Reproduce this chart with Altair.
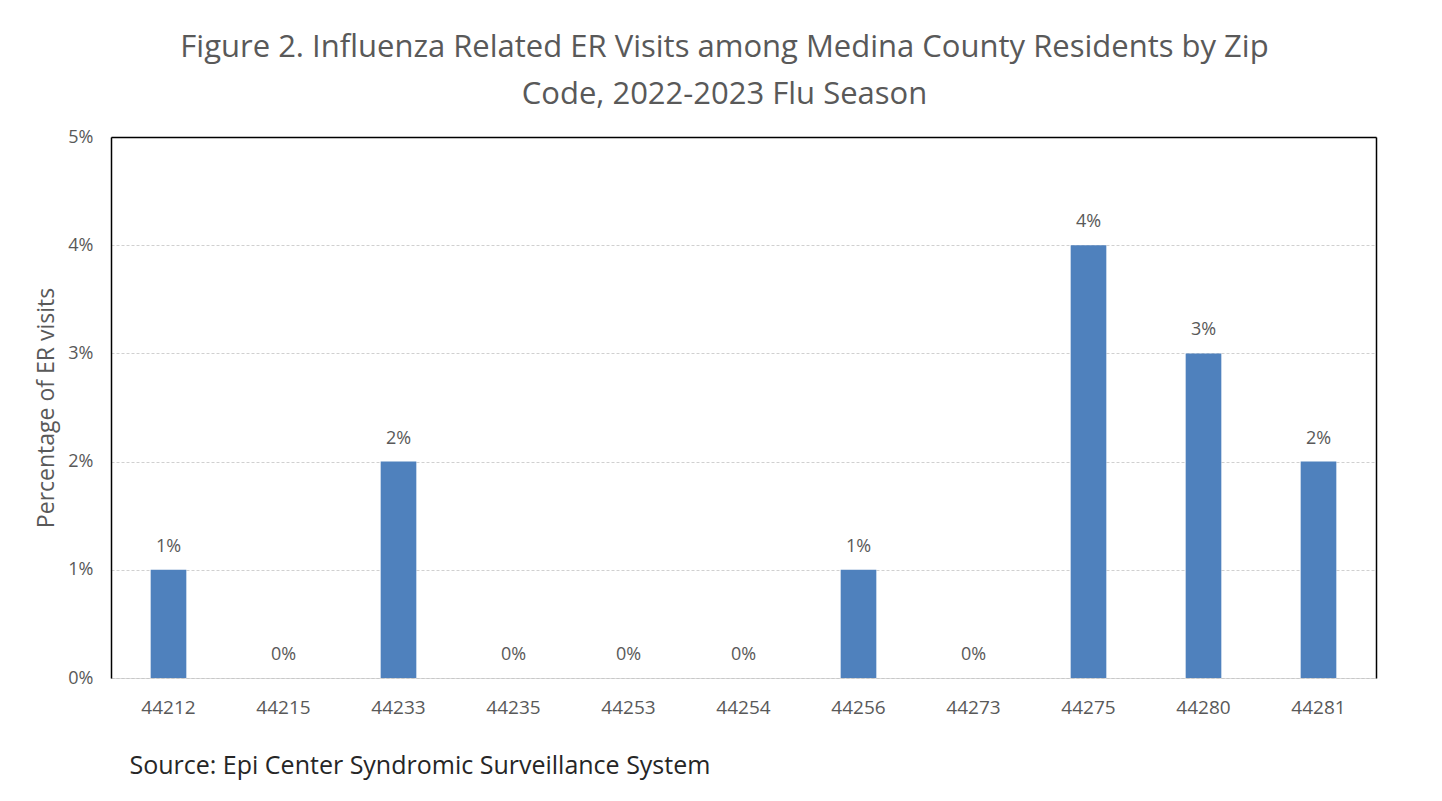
import altair as alt
import pandas as pd

zips = ["44212", "44215", "44233", "44235", "44253", "44254",
        "44256", "44273", "44275", "44280", "44281"]
pct = [1, 0, 2, 0, 0, 0, 1, 0, 4, 3, 2]
y_ticks = [0, 0.01, 0.02, 0.03, 0.04, 0.05]

title_lines = ["Figure 2. Influenza Related ER Visits among Medina County Residents by Zip",
               "Code, 2022-2023 Flu Season"]
source_text = "Source: Epi Center Syndromic Surveillance System"
y_title = "Percentage of ER visits"

df = pd.DataFrame({"zip": zips, "value": [p / 100 for p in pct]})

FONT = "Open Sans"
GRAY = "#595959"

xscale = alt.Scale(paddingInner=0.69, paddingOuter=0.345)
yscale = alt.Scale(domain=[0, 0.05])

base = alt.Chart(df)

bars = base.mark_bar(color="#4F81BD").encode(
    x=alt.X("zip:N", sort=zips, scale=xscale,
            axis=alt.Axis(title=source_text, labelAngle=0, ticks=False,
                          labelPadding=20, labelFontSize=19, labelColor=GRAY,
                          labelFont=FONT, domainColor="#c8c8c8", domainDash=[3, 2],
                          domainWidth=1,
                          titleAnchor="start", titleAlign="left", titleX=18,
                          titleY=95, titleBaseline="alphabetic",
                          titleFontSize=25, titleFontWeight="normal",
                          titleColor="#262626", titleFont=FONT)),
    y=alt.Y("value:Q", scale=yscale,
            axis=alt.Axis(title=y_title, values=y_ticks, format=".0%",
                          ticks=False, labelPadding=18, labelFontSize=18,
                          labelColor=GRAY, labelFont=FONT,
                          grid=True, gridColor="#d0d0d0", gridDash=[3, 2],
                          domainColor="#000000", domainWidth=1.5,
                          titleFontSize=23, titleFontWeight="normal",
                          titleColor=GRAY, titleFont=FONT, titlePadding=9)),
)

labels = base.mark_text(baseline="alphabetic", dy=-18, fontSize=18,
                        color=GRAY, font=FONT).encode(
    x=alt.X("zip:N", sort=zips, scale=xscale,
            axis=alt.Axis(orient="top", labels=False, ticks=False, title=None,
                          domainColor="#000000", domainWidth=1.5, grid=False)),
    y=alt.Y("value:Q", scale=yscale,
            axis=alt.Axis(orient="right", labels=False, ticks=False, title=None,
                          domainColor="#000000", domainWidth=1.5, grid=False)),
    text=alt.Text("value:Q", format=".0%"),
)

chart = alt.layer(bars, labels).resolve_axis(
    x="independent", y="independent"
).properties(
    width=1265,
    height=541,
    autosize=alt.AutoSizeParams(type="none"),
    padding={"left": 103, "top": 129, "right": 50, "bottom": 110},
    title=alt.TitleParams(text=title_lines, anchor="middle", dx=-19,
                          fontSize=31, font=FONT, fontWeight="normal",
                          color=GRAY, lineHeight=47, offset=17),
).configure_view(stroke=None).configure(background="white")

chart.save("out.html", embed_options={"renderer": "svg", "actions": False})
